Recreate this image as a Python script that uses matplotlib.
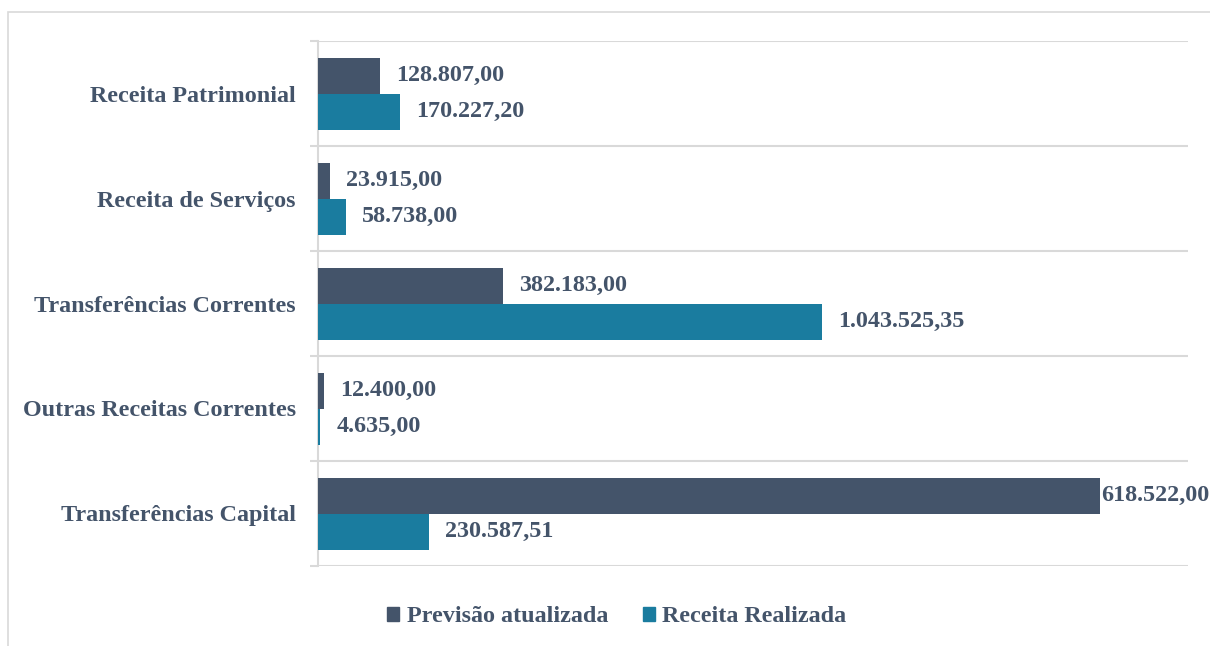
import matplotlib
matplotlib.use("Agg")
import matplotlib.pyplot as plt
from matplotlib.patches import Patch, Rectangle

DARK = "#44546a"       # Previsão atualizada
TEAL = "#1a7c9f"       # Receita Realizada
TXT = "#44546a"
GRID = "#d9d9d9"

CATEGORIES = ["Receita Patrimonial", "Receita de Serviços", "Transferências Correntes",
              "Outras Receitas Correntes", "Transferências Capital"]
SERIES = ["Previsão atualizada", "Receita Realizada"]
# bar lengths as drawn (the capital bar is drawn ~1.6M though its label reads 618.522,00)
PREVISAO = [128807.00, 23915.00, 382183.00, 12400.00, 1618522.00]
REALIZADA = [170227.20, 58738.00, 1043525.35, 4635.00, 230587.51]
PREVISAO_LBL = ["128.807,00", "23.915,00", "382.183,00", "12.400,00", "618.522,00"]
REALIZADA_LBL = ["170.227,20", "58.738,00", "1.043.525,35", "4.635,00", "230.587,51"]
XMAX = 1800000

plt.rcParams["font.family"] = ["Liberation Serif", "DejaVu Serif"]
FS = 17.4

fig = plt.figure(figsize=(12.1, 6.46), dpi=100)
W, H = 1210, 646
ax = fig.add_axes([318 / W, 1 - 566 / H, (1188 - 318) / W, (566 - 41) / H])

# chart frame
fig.patches.append(Rectangle((8 / W, -0.1), 1.2, 1 - 12 / H + 0.1, transform=fig.transFigure,
                             fill=False, ec=GRID, lw=1.2))

bh = 36 / 105
ys = list(range(len(CATEGORIES)))
ax.barh([y - bh / 2 for y in ys], PREVISAO, height=bh, color=DARK, zorder=3)
ax.barh([y + bh / 2 for y in ys], REALIZADA, height=bh, color=TEAL, zorder=3)

ax.set_xlim(0, XMAX)
ax.set_ylim(len(CATEGORIES) - 0.5, -0.5)

for k in range(len(CATEGORIES) + 1):
    ax.axhline(k - 0.5, color=GRID, lw=1.5, zorder=1)

lab_kw = dict(textcoords="offset points", ha="left", va="center", color=TXT,
              fontsize=FS, fontweight="bold", zorder=4)
for y, v, s in zip(ys, PREVISAO, PREVISAO_LBL):
    off = 0.5 if v > 0.8 * XMAX else 11.5
    ax.annotate(s, (v, y - bh / 2), xytext=(off, 0), **lab_kw)
for y, v, s in zip(ys, REALIZADA, REALIZADA_LBL):
    off = 0.5 if v > 0.8 * XMAX else 11.5
    ax.annotate(s, (v, y + bh / 2), xytext=(off, 0), **lab_kw)

ax.set_yticks(ys)
ax.set_yticklabels(CATEGORIES, fontsize=FS, fontweight="bold", color=TXT)
ax.set_yticks([k - 0.5 for k in range(len(CATEGORIES) + 1)], minor=True)
ax.tick_params(axis="y", which="major", length=0, pad=16)
ax.tick_params(axis="y", which="minor", length=6, color=GRID, width=1.5)
ax.set_xticks([])
for side in ("top", "right", "bottom"):
    ax.spines[side].set_visible(False)
ax.spines["left"].set_color(GRID)
ax.spines["left"].set_linewidth(1.5)

handles = [Patch(color=DARK), Patch(color=TEAL)]
fig.legend(handles, SERIES, loc="center", bbox_to_anchor=(617 / W, 1 - 617 / H),
           ncol=2, frameon=False, handlelength=0.5, handleheight=0.5, handletextpad=0.3,
           columnspacing=1.45, prop=dict(size=FS, weight="bold"), labelcolor=TXT)

fig.savefig("out.png", dpi=100)
